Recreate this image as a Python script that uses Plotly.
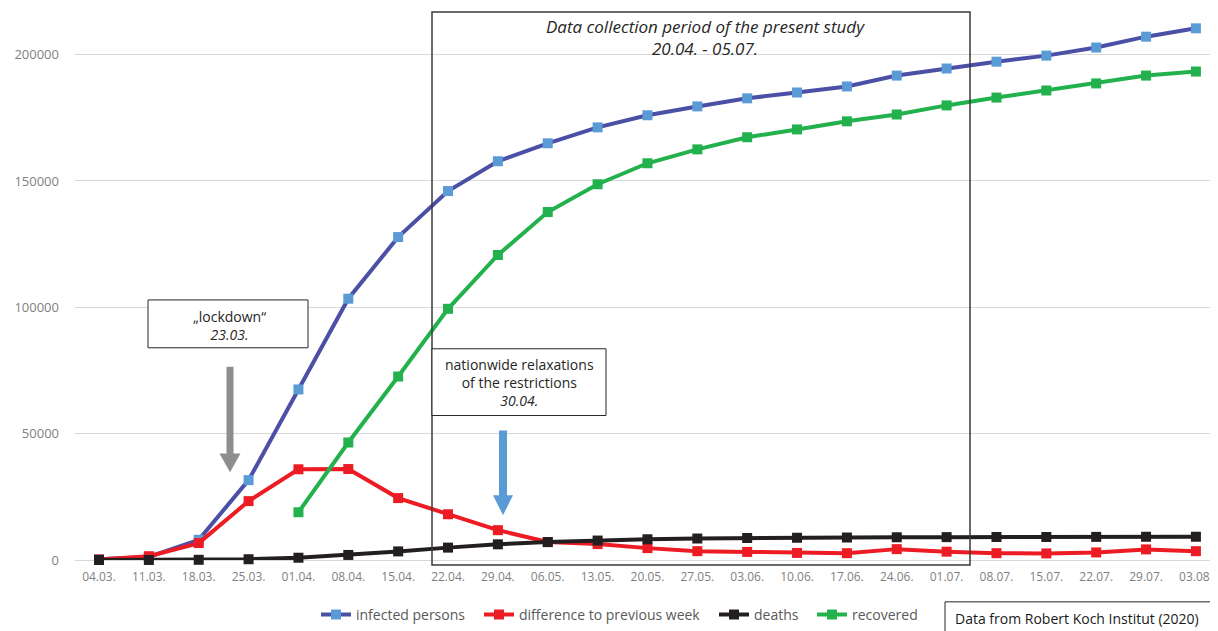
import plotly.graph_objects as go

dates = ["04.03.", "11.03.", "18.03.", "25.03.", "01.04.", "08.04.", "15.04.", "22.04.",
         "29.04.", "06.05.", "13.05.", "20.05.", "27.05.", "03.06.", "10.06.", "17.06.",
         "24.06.", "01.07.", "08.07.", "15.07.", "22.07.", "29.07.", "03.08."]

infected = [300, 1200, 8000, 31600, 67500, 103400, 127800, 146000, 157800, 164900, 171200,
            176000, 179500, 182700, 185000, 187400, 191700, 194500, 197200, 199600, 202800,
            207100, 210400]
difference = [200, 1500, 6700, 23300, 35900, 36000, 24500, 18100, 11800, 7100, 6300,
              4700, 3500, 3200, 2800, 2700, 4300, 3300, 2700, 2600, 3000, 4200, 3500]
deaths = [0, 10, 80, 300, 900, 2000, 3400, 4900, 6200, 7100, 7700, 8200, 8500, 8700,
          8800, 8900, 9000, 9050, 9100, 9100, 9150, 9200, 9200]
recovered = [None, None, None, None, 18900, 46500, 72600, 99400, 120700, 137700, 148700,
             157000, 162500, 167300, 170400, 173600, 176300, 179900, 183000, 185800,
             188600, 191700, 193300]

OFF = 8  # page body margin
W, H = 1218 - OFF, 631 - OFF
# plot area in screen pixels
PL, PR, PT, PB = 75, 1218, 10, 562
ML, MR, MT, MB = PL - OFF, (1218 - OFF) - (PR - OFF), PT - OFF, H - (PB - OFF)
YMAX = (PB - PT) * 394.3
STEP = 49.86
X0 = -(99 - PL) / STEP
X1 = X0 + (PR - PL) / STEP
FONT = "Open Sans"


def px(x):
    return (x - PL) / (PR - PL)


def py(y):
    return (PB - y) / (PB - PT)


xi = list(range(len(dates)))
fig = go.Figure()

series = [
    ("infected persons", infected, "#4b4fa6", "#5b9bd5", "legend", 357),
    ("difference to previous week", difference, "#ed1c24", "#ed1c24", "legend2", 520),
    ("deaths", deaths, "#231f20", "#231f20", "legend3", 755),
    ("recovered", recovered, "#22b14c", "#22b14c", "legend4", 853),
]
legends = {}
for name, vals, lc, mc, lg, tx in series:
    fig.add_trace(go.Scatter(
        x=xi, y=vals, name=name, mode="lines+markers",
        line=dict(color=lc, width=4),
        marker=dict(symbol="square", size=10, color=mc),
        cliponaxis=False, connectgaps=False, legend=lg,
    ))
    legends[lg] = dict(orientation="h", x=px(tx - 41), y=py(601), xanchor="left", yanchor="top",
                       font=dict(family=FONT, size=14, color="#595959"),
                       bgcolor="rgba(0,0,0,0)", itemwidth=30)

shapes = []
annotations = []

# data collection period box
shapes.append(dict(type="rect", xref="paper", yref="paper",
                   x0=px(432), x1=px(970), y0=py(567), y1=py(12),
                   line=dict(color="#3a3a3a", width=1.5), fillcolor="rgba(0,0,0,0)", layer="above"))
annotations.append(dict(xref="paper", yref="paper", x=px(705), y=py(38), xanchor="center", yanchor="middle",
                        text="<i>Data collection period of the present study<br>20.04. - 05.07.</i>",
                        showarrow=False, font=dict(family=FONT, size=17, color="#262626")))

# lockdown box
shapes.append(dict(type="rect", xref="paper", yref="paper",
                   x0=px(148), x1=px(308), y0=py(349), y1=py(301),
                   line=dict(color="#262626", width=1), fillcolor="white", layer="above"))
annotations.append(dict(xref="paper", yref="paper", x=px(229), y=py(327), xanchor="center", yanchor="middle",
                        text="„lockdown“<br><i>23.03.</i>",
                        showarrow=False, font=dict(family=FONT, size=14, color="#262626")))

# relaxations box
shapes.append(dict(type="rect", xref="paper", yref="paper",
                   x0=px(432), x1=px(606), y0=py(417), y1=py(350),
                   line=dict(color="#262626", width=1), fillcolor="white", layer="above"))
annotations.append(dict(xref="paper", yref="paper", x=px(519), y=py(384), xanchor="center", yanchor="middle",
                        text="nationwide relaxations<br>of the restrictions<br><i>30.04.</i>",
                        showarrow=False, font=dict(family=FONT, size=14, color="#262626")))

# source box
shapes.append(dict(type="rect", xref="paper", yref="paper",
                   x0=px(945), x1=px(1212), y0=py(640), y1=py(604),
                   line=dict(color="#262626", width=1), fillcolor="white", layer="above"))
annotations.append(dict(xref="paper", yref="paper", x=px(1077), y=py(621), xanchor="center", yanchor="middle",
                        text="Data from Robert Koch Institut (2020)",
                        showarrow=False, font=dict(family=FONT, size=14, color="#1a1a1a")))


def arrow(cx, top, head_base, tip, shaft_hw, head_hw, color):
    p = (f"M {px(cx - shaft_hw)} {py(top)} L {px(cx + shaft_hw)} {py(top)} "
         f"L {px(cx + shaft_hw)} {py(head_base)} L {px(cx + head_hw)} {py(head_base)} "
         f"L {px(cx)} {py(tip)} L {px(cx - head_hw)} {py(head_base)} "
         f"L {px(cx - shaft_hw)} {py(head_base)} Z")
    return dict(type="path", xref="paper", yref="paper", path=p,
                fillcolor=color, line=dict(width=0), layer="above")


shapes.append(arrow(230, 368, 455, 474, 3.5, 10.5, "#8e8e90"))
shapes.append(arrow(503, 432, 497, 517, 4, 10, "#5b9bd5"))

fig.update_layout(
    width=W, height=H,
    margin=dict(l=ML, r=MR, t=MT, b=MB),
    plot_bgcolor="white", paper_bgcolor="white",
    font=dict(family=FONT, color="#7f7f7f"),
    shapes=shapes, annotations=annotations,
    showlegend=True,
    xaxis=dict(range=[X0, X1], tickmode="array", tickvals=xi, ticktext=dates,
               showgrid=False, zeroline=False, showline=False, ticklabeloverflow="allow",
               tickfont=dict(family=FONT, size=12, color="#7f7f7f"), ticklabelstandoff=8),
    yaxis=dict(range=[0, YMAX], tickvals=[0, 50000, 100000, 150000, 200000],
               ticktext=["0", "50000", "100000", "150000", "200000"],
               showgrid=True, gridcolor="#d9d9d9", gridwidth=1, zeroline=True,
               zerolinecolor="#d9d9d9", zerolinewidth=1, showline=False,
               tickfont=dict(family=FONT, size=13, color="#7f7f7f"), ticklabelstandoff=15),
    **legends,
)

fig.write_html("out.html")
